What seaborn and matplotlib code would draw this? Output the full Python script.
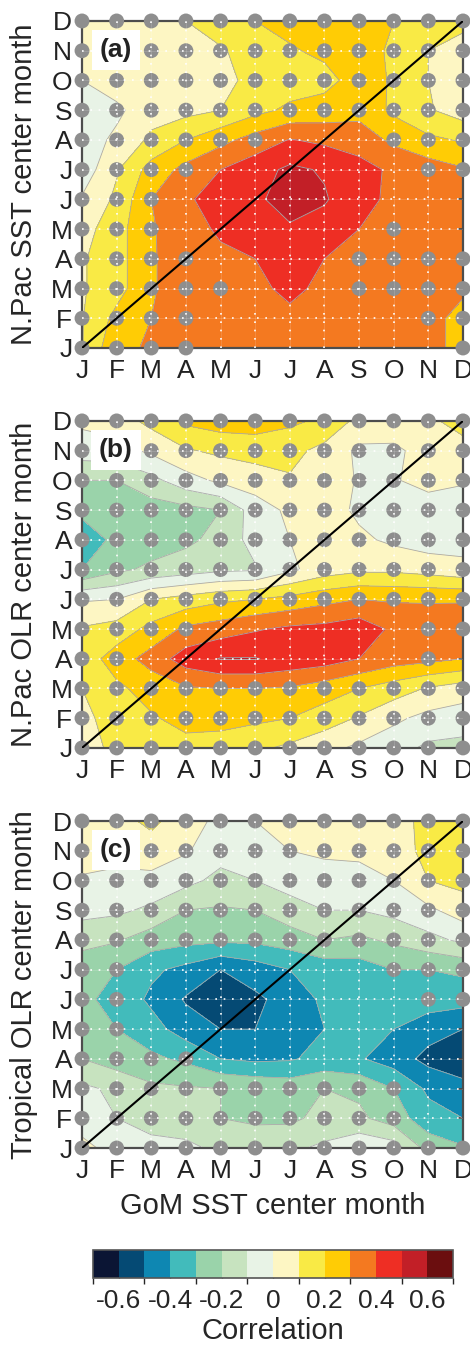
import numpy as np
import pandas as pd
import seaborn as sns
import matplotlib
matplotlib.use('Agg')
import matplotlib.pyplot as plt
from matplotlib.colors import ListedColormap, BoundaryNorm

'''
Lagged correlation maps: GoM SST (x) against three indices (y), 3 panels + colorbar.
'''

months = ['J', 'F', 'M', 'A', 'M', 'J', 'J', 'A', 'S', 'O', 'N', 'D']

# correlation values, one row per y month (Jan at bottom ... Dec at top), columns = GoM SST month
npac_sst = [
    [0.095, 0.28, 0.31, 0.34, 0.36, 0.37, 0.38, 0.37, 0.36, 0.35, 0.33, 0.27],
    [0.095, 0.23, 0.30, 0.35, 0.37, 0.38, 0.39, 0.38, 0.37, 0.36, 0.32, 0.28],
    [0.09, 0.16, 0.29, 0.35, 0.38, 0.39, 0.41, 0.39, 0.37, 0.36, 0.34, 0.31],
    [0.09, 0.16, 0.29, 0.35, 0.38, 0.40, 0.45, 0.40, 0.37, 0.36, 0.35, 0.33],
    [0.06, 0.16, 0.29, 0.36, 0.415, 0.46, 0.48, 0.46, 0.40, 0.37, 0.36, 0.34],
    [0.01, 0.12, 0.30, 0.38, 0.46, 0.47, 0.57, 0.51, 0.43, 0.38, 0.36, 0.35],
    [-0.06, 0.09, 0.24, 0.33, 0.40, 0.46, 0.52, 0.49, 0.44, 0.38, 0.35, 0.31],
    [-0.05, 0.02, 0.12, 0.20, 0.27, 0.34, 0.405, 0.38, 0.35, 0.28, 0.22, 0.19],
    [-0.04, -0.02, 0.06, 0.07, 0.10, 0.17, 0.22, 0.24, 0.27, 0.18, 0.11, 0.05],
    [0.0, 0.05, 0.07, 0.08, 0.09, 0.11, 0.15, 0.17, 0.24, 0.19, 0.10, 0.05],
    [0.03, 0.05, 0.06, 0.07, 0.09, 0.14, 0.19, 0.22, 0.25, 0.18, 0.10, 0.07],
    [0.05, 0.06, 0.08, 0.10, 0.15, 0.20, 0.23, 0.25, 0.27, 0.20, 0.15, 0.12],
]

npac_olr = [
    [0.05, 0.13, 0.16, 0.17, 0.16, 0.12, 0.08, 0.03, -0.02, -0.06, -0.12, -0.13],
    [0.07, 0.15, 0.19, 0.23, 0.23, 0.22, 0.20, 0.15, 0.09, 0.02, -0.03, -0.05],
    [0.10, 0.18, 0.24, 0.29, 0.30, 0.30, 0.29, 0.25, 0.20, 0.15, 0.09, 0.05],
    [0.14, 0.25, 0.34, 0.45, 0.505, 0.505, 0.47, 0.45, 0.40, 0.35, 0.33, 0.30],
    [0.11, 0.14, 0.23, 0.32, 0.35, 0.39, 0.42, 0.43, 0.46, 0.38, 0.36, 0.37],
    [-0.01, 0.0, 0.10, 0.14, 0.18, 0.20, 0.23, 0.27, 0.30, 0.29, 0.29, 0.29],
    [-0.30, -0.22, -0.18, -0.15, -0.12, -0.11, -0.02, 0.05, 0.08, 0.08, 0.06, 0.03],
    [-0.37, -0.27, -0.25, -0.22, -0.17, -0.06, 0.0, 0.05, 0.02, -0.02, -0.05, -0.04],
    [-0.27, -0.27, -0.25, -0.23, -0.20, -0.05, 0.02, 0.05, -0.02, -0.05, -0.06, -0.05],
    [-0.20, -0.20, -0.13, -0.04, 0.02, 0.05, 0.09, 0.06, -0.01, -0.01, 0.04, 0.01],
    [-0.05, -0.04, 0.02, 0.09, 0.12, 0.14, 0.13, 0.07, -0.02, -0.02, 0.04, 0.06],
    [0.02, 0.05, 0.13, 0.22, 0.25, 0.25, 0.22, 0.18, 0.07, 0.06, 0.08, 0.14],
]

trop_olr = [
    [0.03, -0.04, -0.06, -0.08, -0.12, -0.13, -0.12, -0.08, -0.02, -0.05, -0.24, -0.29],
    [-0.05, -0.10, -0.15, -0.15, -0.20, -0.22, -0.22, -0.17, -0.18, -0.25, -0.36, -0.40],
    [-0.08, -0.12, -0.18, -0.19, -0.20, -0.22, -0.24, -0.20, -0.22, -0.30, -0.42, -0.45],
    [-0.20, -0.25, -0.28, -0.32, -0.40, -0.42, -0.41, -0.37, -0.39, -0.45, -0.53, -0.60],
    [-0.25, -0.30, -0.36, -0.45, -0.50, -0.50, -0.46, -0.40, -0.36, -0.40, -0.46, -0.50],
    [-0.28, -0.33, -0.42, -0.51, -0.58, -0.52, -0.46, -0.38, -0.35, -0.34, -0.35, -0.36],
    [-0.27, -0.30, -0.38, -0.43, -0.50, -0.45, -0.40, -0.36, -0.35, -0.30, -0.30, -0.28],
    [-0.16, -0.19, -0.25, -0.27, -0.28, -0.28, -0.25, -0.20, -0.22, -0.18, -0.13, -0.08],
    [-0.07, -0.08, -0.12, -0.20, -0.21, -0.20, -0.14, -0.10, -0.10, -0.07, -0.02, 0.05],
    [-0.01, -0.03, -0.03, -0.07, -0.13, -0.10, -0.06, -0.05, -0.05, 0.00, 0.10, 0.13],
    [0.04, 0.04, 0.06, 0.01, -0.06, -0.05, 0.00, 0.02, 0.03, 0.05, 0.13, 0.17],
    [0.06, 0.07, 0.12, 0.05, -0.03, 0.00, 0.03, 0.05, 0.05, 0.06, 0.13, 0.15],
]

# grey dots (1 = dot), same row order as above
npac_sst_dots = ['111100000001', '111100000011', '111110001111', '111100001111',
                 '111000000100', '111000000000', '111100000011', '111111000111',
                 '111111111111', '111111111111', '111111111111', '111111111111']
npac_olr_dots = ['111111111111', '111111111111', '111111111111', '110000000010',
                 '111100000011', '111111111111', '111111111111', '111111111111',
                 '111111111111', '111111111111', '111111111111', '111111111111']
trop_olr_dots = ['111111111111', '111111111100', '111111111100', '111100000000',
                 '110000000000', '110000000011', '110000000111', '111111111111',
                 '111111111111', '111111111111', '111111111111', '111111111111']

panel_tags = ['(a)', '(b)', '(c)']
y_labels = ['N.Pac SST center month', 'N.Pac OLR center month', 'Tropical OLR center month']
x_label = 'GoM SST center month'

levels = np.round(np.arange(-0.7, 0.71, 0.1), 2)
level_colors = ['#0b1534', '#054a74', '#0e87b2', '#42bbbb', '#9ad3aa', '#c7e3bf', '#e8f3e6',
                '#fdf6c3', '#f9ea45', '#ffcc05', '#f47920', '#ee2e24', '#c21f27', '#6b0e0f']
cbar_ticks = [-0.6, -0.4, -0.2, 0, 0.2, 0.4, 0.6]
cbar_ticklabels = ['-0.6', '-0.4', '-0.2', '0', '0.2', '0.4', '0.6']

sns.set_theme(style='white')
plt.rcParams['font.family'] = ['Liberation Sans', 'DejaVu Sans']
plt.rcParams['text.color'] = '#222222'

cmap = ListedColormap(level_colors)
norm = BoundaryNorm(levels, cmap.N)


def draw_panel(ax, vals, dots, tag, ylab):
    z = np.array(vals)
    g = np.arange(12)
    cf = ax.contourf(g, g, z, levels=levels, cmap=cmap, norm=norm, zorder=0.5)
    ax.contour(g, g, z, levels=levels, colors='#a9a9a9', linewidths=0.6,
               linestyles='solid', zorder=0.6)

    pts = [(i, j) for j, row in enumerate(dots) for i, c in enumerate(row) if c == '1']
    df = pd.DataFrame(pts, columns=['x', 'y'])
    sns.scatterplot(data=df, x='x', y='y', ax=ax, s=115, color='#8e8e8e', edgecolor='none',
                    linewidth=0, zorder=2.6, clip_on=False, legend=False)

    # white dotted grid on top (inner lines only, spines stay solid)
    inner = g[1:-1]
    ax.vlines(inner, 0, 11, colors='white', linewidth=0.5, alpha=0.2, zorder=2.7)
    ax.hlines(inner, 0, 11, colors='white', linewidth=0.5, alpha=0.2, zorder=2.7)
    ax.vlines(inner, 0, 11, colors='white', linestyles=(0, (1, 4)), linewidth=1.2, zorder=2.8)
    ax.hlines(inner, 0, 11, colors='white', linestyles=(0, (1, 4)), linewidth=1.2, zorder=2.8)

    ax.plot([0, 11], [0, 11], color='black', lw=1.5, zorder=3)

    ax.set_xlim(0, 11)
    ax.set_ylim(0, 11)
    ax.set_xticks(g)
    ax.set_yticks(g)
    ax.set_xticklabels(months)
    ax.set_yticklabels(months)
    ax.tick_params(axis='both', direction='in', length=4, width=1.2, color='#444444',
                   top=True, right=True, labelsize=19, labelcolor='#222222')
    ax.tick_params(axis='x', pad=8)
    ax.tick_params(axis='y', pad=7)
    for sp in ax.spines.values():
        sp.set_color('#4d4d4d')
        sp.set_linewidth(1.6)
        sp.set_zorder(2.5)
    ax.set_xlabel('')
    ax.set_ylabel(ylab, fontsize=21)
    ax.yaxis.set_label_coords(-0.115, 0.5)

    ax.text(0.089, 0.911, tag, transform=ax.transAxes, ha='center', va='center',
            fontsize=19, fontweight='bold',
            bbox=dict(facecolor='white', edgecolor='none', boxstyle='square,pad=0.3'),
            zorder=5)
    return cf


fig = plt.figure(figsize=(4.7, 13.53), dpi=100)
bottoms = [0.7428, 0.4472, 0.1515]
data = [npac_sst, npac_olr, trop_olr]
dot_sets = [npac_sst_dots, npac_olr_dots, trop_olr_dots]

for k in range(3):
    ax = fig.add_axes([0.1745, bottoms[k], 0.8106, 0.2417])
    cf = draw_panel(ax, data[k], dot_sets[k], panel_tags[k], y_labels[k])

ax.set_xlabel(x_label, fontsize=21)
ax.xaxis.set_label_coords(0.5, -0.135)

cax = fig.add_axes([0.198, 0.0554, 0.766, 0.0207])
cb = fig.colorbar(cf, cax=cax, orientation='horizontal', ticks=cbar_ticks)
cb.ax.set_xticklabels(cbar_ticklabels)
cb.ax.tick_params(direction='in', length=5, width=1, color='#444444', labelsize=19, pad=8)
cb.outline.set_edgecolor('#555555')
cb.outline.set_linewidth(1.2)
cb.set_label('Correlation', fontsize=21, labelpad=3)

fig.savefig('out.png', dpi=100)
